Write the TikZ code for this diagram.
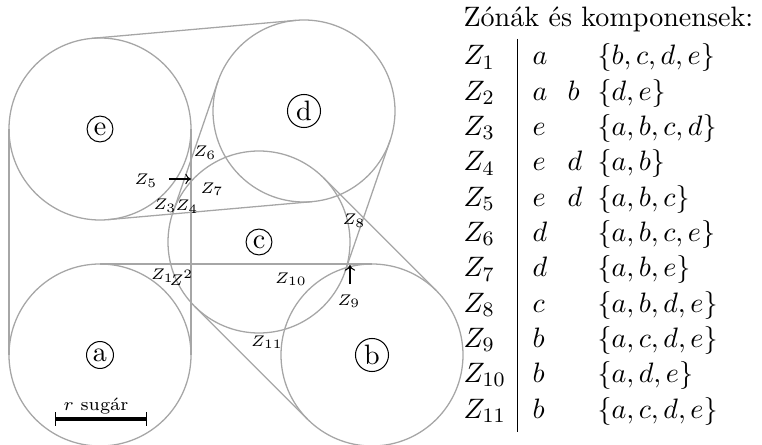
\documentclass[tikz,border=0pt]{standalone}
\usetikzlibrary{calc,arrows.meta}
\definecolor{circgray}{gray}{0.65}
\tikzset{
  circ/.style={draw=circgray, line width=0.5pt},
  tang/.style={draw=circgray, line width=0.5pt},
  zlab/.style={font=\fontsize{6}{7}\selectfont, inner sep=0pt, anchor=base},
  tabtxt/.style={font=\fontsize{10.95}{13.6}\selectfont, inner sep=0pt, anchor=base west},
  cletter/.style={circle, draw, line width=0.4pt, inner sep=1.1pt, font=\fontsize{10.95}{13.6}\selectfont},
  zarrow/.style={-{To[length=2.2pt,width=4pt]}, line width=0.4pt},
}
\begin{document}
\begin{tikzpicture}[x=0.39pt,y=-0.39pt]
\useasboundingbox (0,0) rectangle (762,445);
\def\R{35.49pt}
% circle centres
\coordinate (a) at (100,355);
\coordinate (b) at (372,355);
\coordinate (c) at (259,242);
\coordinate (d) at (304,111);
\coordinate (e) at (100,129);
% circles
\foreach \p in {a,b,c,d,e}{\draw[circ] (\p) circle[radius=\R];}
% tangent lines (capsules)
\foreach \p/\q in {a/e,a/b,e/d,d/c,c/b}{
  \draw[tang] ($(\p)!\R!90:(\q)$) -- ($(\q)!\R!-90:(\p)$);
  \draw[tang] ($(\p)!\R!-90:(\q)$) -- ($(\q)!\R!90:(\p)$);
}
% circled letters
\foreach \p in {a,b,c,d,e}{\node[cletter] (l\p) at (\p) {\p};}
% zone labels
\node[zlab] (z5) at (146,185) {$Z_5$};
\node[zlab] (z6) at (205,157) {$Z_6$};
\node[zlab] (z7) at (212,193) {$Z_7$};
\node[zlab] (z3) at (165,210) {$Z_3$};
\node[zlab] (z4) at (187,211) {$Z_4$};
\node[zlab] (z1) at (162.5,280) {$Z_1$};
\node[zlab] (z2) at (181.5,285) {$Z^2$};
\node[zlab] (z8) at (354,225) {$Z_8$};
\node[zlab] (z10) at (291,283) {$Z_{10}$};
\node[zlab] (z9) at (349,305) {$Z_9$};
\node[zlab] (z11) at (267,346) {$Z_{11}$};
% arrows to tiny zones
\coordinate (a5s) at (169,179);
\coordinate (a5e) at (191,179);
\coordinate (a9s) at (350,284);
\coordinate (a9e) at (350,265);
\draw[zarrow] (a5s) -- (a5e);
\draw[zarrow] (a9s) -- (a9e);
% scale bar
\coordinate (sbl) at (55.5,419);
\coordinate (sbr) at (146.5,419);
\draw[line width=1.8pt] (sbl) -- (sbr);
\draw[line width=0.5pt] ($(sbl)+(0,-7)$) -- ($(sbl)+(0,7)$);
\draw[line width=0.5pt] ($(sbr)+(0,-7)$) -- ($(sbr)+(0,7)$);
\node[font=\fontsize{7}{8}\selectfont, inner sep=0pt, anchor=base] (rs) at (96,410) {$r$ sugár};
% table
\node[tabtxt] (title) at (463,26.7) {Zónák és komponensek:};
\coordinate (rtop) at (517.3,39);
\coordinate (rbot) at (517.3,432);
\draw[line width=0.4pt] (rtop) -- (rbot);
\foreach \i/\p/\q/\s in {1/a//{b,c,d,e}, 2/a/b/{d,e}, 3/e//{a,b,c,d}, 4/e/d/{a,b},
  5/e/d/{a,b,c}, 6/d//{a,b,c,e}, 7/d//{a,b,e}, 8/c//{a,b,d,e}, 9/b//{a,c,d,e},
  10/b//{a,d,e}, 11/b//{a,c,d,e}}{
  \pgfmathsetmacro{\yy}{65+35.3*(\i-1)}
  \node[tabtxt] (tz\i) at (463,\yy) {$Z_{\i}$};
  \node[tabtxt] (tp\i) at (532,\yy) {$\p$};
  \node[tabtxt] (tq\i) at (567,\yy) {$\q$};
  \node[tabtxt] (ts\i) at (597,\yy) {$\{\s\}$};
}
\end{tikzpicture}
\end{document}
